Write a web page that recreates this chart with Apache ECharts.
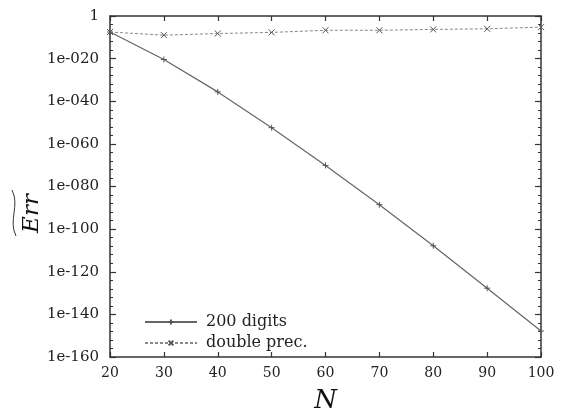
<!DOCTYPE html>
<html>
<head>
<meta charset="utf-8">
<script src="https://cdn.jsdelivr.net/npm/echarts@6/dist/echarts.min.js"></script>
<style>
  html, body { margin: 0; padding: 0; background: #fff; }
  #chart { width: 565px; height: 414px; }
</style>
</head>
<body>
<div id="chart"></div>
<script>
// Problem size N and the estimated error for each precision
const nValues = [20, 30, 40, 50, 60, 70, 80, 90, 100];
const err200Digits = [3e-8, 4e-21, 2.5e-36, 4e-53, 8e-71, 3e-89, 1.6e-108, 2e-128, 1.6e-148];
const errDoublePrec = [3e-8, 1e-9, 6e-9, 2e-8, 2e-7, 2e-7, 5e-7, 1e-6, 6e-6];
const seriesNames = ['200 digits', 'double prec.'];
// decade range of the error axis (powers of ten)
const expMin = -160;
const expMax = 0;

const FONT = 'DejaVu Serif';
const FRAME = '#333';

// tick label for a power of ten given by its exponent
function expLabel(e) {
  e = Math.round(e);
  if (e === 0) return '1';
  return '1e' + (e < 0 ? '-' : '+') + String(Math.abs(e)).padStart(3, '0');
}

const pairs = (ys) => nValues.map((n, i) => [n, ys[i]]);

const grid = { left: 110, right: 24, top: 16, bottom: 57, containLabel: false, outerBoundsMode: 'none' };

const chart = echarts.init(document.getElementById('chart'), null, { renderer: 'canvas' });

const crossPath = 'path://M0,0L10,10M10,0L0,10';
const plusPath = 'path://M5,0L5,10M0,5L10,5';

// exponent axis used for decade ticks and labels, sharing the log axis range
function decadeAxis(position, interval, tickLen, labels) {
  return {
    type: 'value', position: position, min: expMin, max: expMax, interval: interval,
    axisLine: { show: false },
    axisTick: { inside: true, length: tickLen, lineStyle: { color: FRAME, width: tickLen > 4 ? 1.2 : 1 } },
    axisLabel: labels
      ? { fontFamily: FONT, fontSize: 15, color: '#222', margin: 11, formatter: expLabel, showMinLabel: true, showMaxLabel: true }
      : { show: false },
    splitLine: { show: false }
  };
}

chart.setOption({
  animation: false,
  backgroundColor: '#fff',
  grid: grid,
  legend: {
    orient: 'vertical',
    left: 139,
    top: 309,
    itemWidth: 52,
    itemHeight: 6,
    itemGap: 5,
    textStyle: { fontFamily: FONT, fontSize: 16, color: '#222', padding: [0, 0, 0, 4] },
    data: seriesNames
  },
  xAxis: [
    {
      type: 'value', position: 'bottom', min: 20, max: 100, interval: 10,
      name: 'N', nameLocation: 'middle', nameGap: 31,
      nameTextStyle: { fontFamily: FONT, fontStyle: 'italic', fontSize: 26, color: '#111' },
      axisLine: { show: true, onZero: false, lineStyle: { color: FRAME, width: 1.5 } },
      axisTick: { inside: true, length: 5, lineStyle: { color: FRAME, width: 1.2 } },
      axisLabel: { fontFamily: FONT, fontSize: 14, color: '#222', margin: 9, showMinLabel: true, showMaxLabel: true },
      splitLine: { show: false }
    },
    {
      type: 'value', position: 'top', min: 20, max: 100, interval: 10,
      axisLine: { show: true, onZero: false, lineStyle: { color: FRAME, width: 1.5 } },
      axisTick: { inside: true, length: 5, lineStyle: { color: FRAME, width: 1.2 } },
      axisLabel: { show: false },
      splitLine: { show: false }
    }
  ],
  yAxis: [
    {
      type: 'log', logBase: 10, position: 'left', min: Math.pow(10, expMin), max: Math.pow(10, expMax),
      name: 'Err', nameLocation: 'middle', nameGap: 66, nameRotate: 90, nameMoveOverlap: false,
      nameTextStyle: { fontFamily: FONT, fontStyle: 'italic', fontSize: 23, color: '#111', padding: [0, 54, 0, 0] },
      axisLine: { show: true, onZero: false, lineStyle: { color: FRAME, width: 1.5 } },
      axisTick: { show: false },
      axisLabel: { show: false },
      splitLine: { show: false }
    },
    {
      type: 'log', logBase: 10, position: 'right', min: Math.pow(10, expMin), max: Math.pow(10, expMax),
      axisLine: { show: true, onZero: false, lineStyle: { color: FRAME, width: 1.5 } },
      axisTick: { show: false },
      axisLabel: { show: false },
      splitLine: { show: false }
    },
    decadeAxis('left', 20, 6, true),
    decadeAxis('right', 20, 6, false),
    decadeAxis('left', 4, 3, false),
    decadeAxis('right', 4, 3, false)
  ],
  series: [
    {
      name: seriesNames[0], type: 'line', xAxisIndex: 0, yAxisIndex: 0,
      data: pairs(err200Digits),
      symbol: plusPath, symbolSize: 6,
      lineStyle: { color: '#666', width: 1.2 },
      itemStyle: { color: 'rgba(0,0,0,0)', borderColor: '#555', borderWidth: 1 }
    },
    {
      name: seriesNames[1], type: 'line', xAxisIndex: 0, yAxisIndex: 0,
      data: pairs(errDoublePrec),
      symbol: crossPath, symbolSize: 6,
      lineStyle: { color: '#888', width: 1, type: [3, 2] },
      itemStyle: { color: 'rgba(0,0,0,0)', borderColor: '#555', borderWidth: 1 }
    }
  ],
  graphic: [
    {
      // wide tilde over the rotated axis title
      type: 'bezierCurve',
      shape: { x1: 16, y1: 236, cpx1: 8, cpy1: 220, cpx2: 20, cpy2: 206, x2: 12, y2: 190 },
      style: { fill: 'none', stroke: '#333', lineWidth: 1 }
    }
  ]
});
</script>
</body>
</html>
